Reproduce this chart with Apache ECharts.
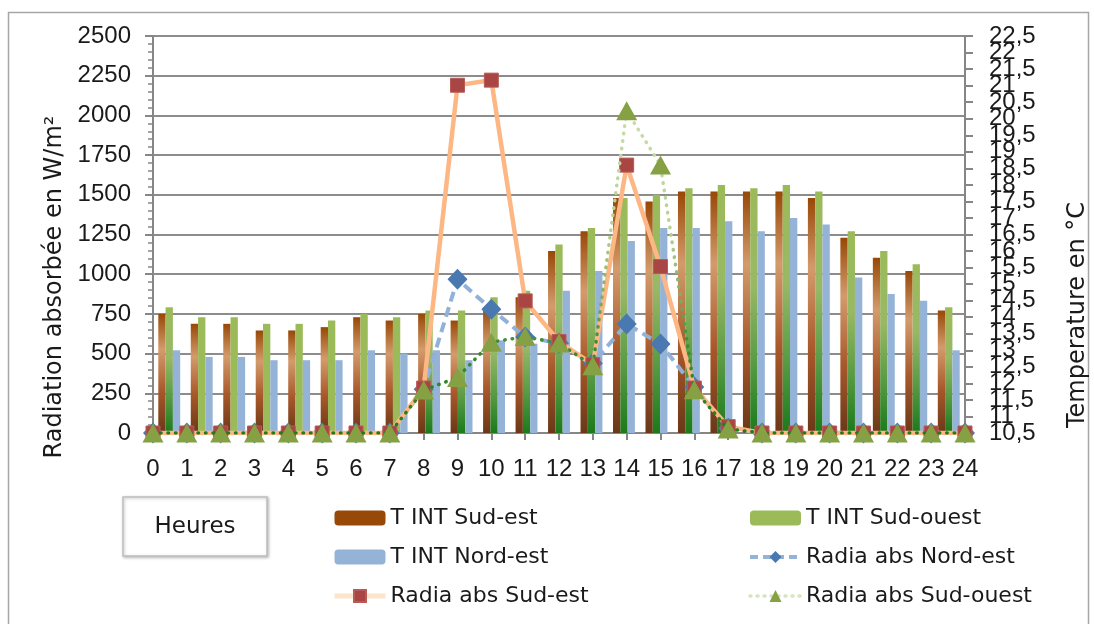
<!DOCTYPE html>
<html>
<head>
<meta charset="utf-8">
<script src="https://cdn.jsdelivr.net/npm/echarts@6/dist/echarts.min.js"></script>
<style>
  html, body { margin: 0; padding: 0; background: #ffffff; }
  #chart { width: 1094px; height: 624px; }
</style>
</head>
<body>
<div id="chart"></div>
<script>
// ---- data ----
const hours = ['0','1','2','3','4','5','6','7','8','9','10','11','12','13','14','15','16','17','18','19','20','21','22','23','24'];
// interior temperatures (°C), right axis
const tIntSudEst   = [14.1,13.8,13.8,13.6,13.6,13.7,14.0,13.9,14.1,13.9,14.3,14.6,16.0,16.6,17.6,17.5,17.8,17.8,17.8,17.8,17.6,16.4,15.8,15.4,14.2];
const tIntSudOuest = [14.3,14.0,14.0,13.8,13.8,13.9,14.1,14.0,14.2,14.2,14.6,14.8,16.2,16.7,17.6,17.7,17.9,18.0,17.9,18.0,17.8,16.6,16.0,15.6,14.3];
const tIntNordEst  = [13.0,12.8,12.8,12.7,12.7,12.7,13.0,12.9,13.0,12.7,13.3,13.2,14.8,15.4,16.3,16.7,16.7,16.9,16.6,17.0,16.8,15.2,14.7,14.5,13.0];
// absorbed radiation (W/m²), left axis
const radiaNordEst  = [0,0,0,0,0,0,0,0,275,968,780,605,565,440,687,560,290,30,0,0,0,0,0,0,0];
const radiaSudEst   = [0,0,0,0,0,0,0,0,283,2190,2222,832,576,430,1687,1048,283,40,0,0,0,0,0,0,0];
const radiaSudOuest = [0,0,0,0,0,0,0,0,270,350,572,607,566,423,2029,1687,272,25,0,0,0,0,0,0,0];

const numFont = 'Liberation Sans';
const txtFont = 'DejaVu Sans';
const G = echarts.graphic;

const brownGrad = new G.LinearGradient(0,0,0,1,[
  {offset:0, color:'#984807'},{offset:0.3, color:'#d39b6c'},
  {offset:0.65, color:'#a8582a'},{offset:1, color:'#6a3818'}]);
const greenGrad = new G.LinearGradient(0,0,0,1,[
  {offset:0, color:'#9bbb59'},{offset:0.4, color:'#98b865'},
  {offset:0.72, color:'#579a43'},{offset:1, color:'#1b7a1b'}]);
const sudOuestGrad = new G.LinearGradient(0, 36, 0, 433, [
  {offset:0, color:'#cadca8'},{offset:0.19, color:'#cadca8'},{offset:0.49, color:'#b8d191'},
  {offset:0.665, color:'#7fae5c'},{offset:0.77, color:'#3f8c34'},{offset:1, color:'#1e7b1e'}], true);

const greenData = tIntSudOuest.map((v,i) => (i >= 1 && i <= 7)
  ? {value: v, itemStyle: {color: '#9bbb59'}} : v);

const legendText = { fontFamily: txtFont, fontSize: 22, color:'#1a1a1a', lineHeight: 26 };
const fmtT = v => String(v).replace('.', ',');

const chart = echarts.init(document.getElementById('chart'), null, {renderer:'canvas'});
chart.setOption({
  animation: false,
  backgroundColor: '#ffffff',
  grid: { left: 153, right: 129, top: 36, bottom: 191, containLabel: false },
  xAxis: [
    { type:'category', data: hours, boundaryGap: true, show: false },
    { type:'category', data: hours, boundaryGap: false, position:'bottom',
      axisLine: { lineStyle: { color:'#868686', width: 2 } },
      axisTick: { show: true, length: 7, lineStyle: { color:'#868686', width: 2 } },
      axisLabel: { color:'#1a1a1a', fontFamily: numFont, fontSize: 24, margin: 24, interval: 0 },
      splitLine: { show: false } }
  ],
  yAxis: [
    { type:'value', min: 0, max: 2500, interval: 250, position:'left',
      axisLine: { show: true, lineStyle: { color:'#868686', width: 2 } },
      axisTick: { show: true, length: 8, lineStyle: { color:'#868686', width: 2 } },
      minorTick: { show: true, splitNumber: 5, length: 5, lineStyle: { color:'#868686', width: 1.5 } },
      axisLabel: { color:'#1a1a1a', fontFamily: numFont, fontSize: 24, margin: 22,
        formatter: v => String(v) },
      splitLine: { show: true, lineStyle: { color:'#8c8c8c', width: 2 } } },
    // temperature axis: ticks every 0.5, labels for the ",5" values
    { type:'value', min: 10.5, max: 22.5, interval: 0.5, position:'right',
      axisLine: { show: true, lineStyle: { color:'#868686', width: 2 } },
      axisTick: { show: true, length: 8, lineStyle: { color:'#868686', width: 2 } },
      axisLabel: { color:'#1a1a1a', fontFamily: numFont, fontSize: 24, margin: 24,
        showMinLabel: true, showMaxLabel: true,
        formatter: v => (Math.round(v * 2) % 2 === 1 ? fmtT(v) : '') },
      splitLine: { show: false } },
    // same temperature scale: labels for the whole values
    { type:'value', min: 10.5, max: 22.5, interval: 0.5, position:'right',
      axisLine: { show: false }, axisTick: { show: false }, splitLine: { show: false },
      axisLabel: { color:'#1a1a1a', fontFamily: numFont, fontSize: 24, margin: 24,
        showMinLabel: true, showMaxLabel: true,
        formatter: v => (Math.round(v * 2) % 2 === 0 ? fmtT(v) : '') } }
  ],
  legend: [
    { orient:'vertical', left: 332, top: 505, padding: 0, itemWidth: 51, itemHeight: 15, itemGap: 13,
      textStyle: legendText,
      data: [
        { name:'T INT Sud-est', itemStyle: { color:'#984807' } },
        { name:'T INT Nord-est', itemStyle: { color:'#95b3d7' } },
        { name:'Radia abs Sud-est', itemStyle: { color:'#a94643' }, lineStyle: { color:'#fbe5c8', width: 5 } }
      ] },
    { orient:'vertical', left: 748, top: 505, padding: 0, itemWidth: 51, itemHeight: 15, itemGap: 13,
      textStyle: legendText,
      data: [
        { name:'T INT Sud-ouest', itemStyle: { color:'#9bbb59' } },
        { name:'Radia abs Nord-est', itemStyle: { color:'#4a78b0' }, lineStyle: { color:'#95b3d7', width: 4, type:[8,5] } },
        { name:'Radia abs Sud-ouest', itemStyle: { color:'#86a044' }, lineStyle: { color:'#d7e4bd', width: 3.5, type:[1,6], cap:'round' } }
      ] }
  ],
  graphic: [
    { type:'rect', shape: { x: 8.5, y: 12.5, width: 1080, height: 640 }, silent: true,
      style: { fill: 'none', stroke: '#a6a6a6', lineWidth: 1.5 }, z: -10 },
    { type:'rect', shape: { x: 123, y: 497, width: 144, height: 59 },
      style: { fill:'#ffffff', stroke:'#bfbfbf', lineWidth: 1.5, shadowBlur: 3, shadowColor:'rgba(0,0,0,0.25)', shadowOffsetX: 1, shadowOffsetY: 1 } },
    { type:'text', x: 195, y: 527, style: { text:'Heures', font: '23px "DejaVu Sans"', fill:'#1a1a1a', align:'center', verticalAlign:'middle' } },
    { type:'text', x: 55, y: 287, rotation: Math.PI/2,
      style: { text:'Radiation absorbée en W/m²', font: '24px "DejaVu Sans"', fill:'#1a1a1a', align:'center', verticalAlign:'middle' } },
    { type:'text', x: 1078, y: 315, rotation: Math.PI/2,
      style: { text:'Temperature en °C', font: '24px "DejaVu Sans"', fill:'#1a1a1a', align:'center', verticalAlign:'middle' } }
  ],
  series: [
    { name:'T INT Sud-est', type:'bar', xAxisIndex: 0, yAxisIndex: 1, data: tIntSudEst,
      barWidth: 7.3, barGap: '0%', itemStyle: { color: brownGrad } },
    { name:'T INT Sud-ouest', type:'bar', xAxisIndex: 0, yAxisIndex: 1, data: greenData,
      barWidth: 7.3, barGap: '0%', itemStyle: { color: greenGrad } },
    { name:'T INT Nord-est', type:'bar', xAxisIndex: 0, yAxisIndex: 1, data: tIntNordEst,
      barWidth: 7.3, barGap: '0%', itemStyle: { color: '#95b3d7' } },
    { name:'Radia abs Nord-est', type:'line', xAxisIndex: 1, yAxisIndex: 0, data: radiaNordEst,
      symbol:'diamond', symbolSize: [20, 21], z: 3,
      lineStyle: { color:'#92b1d9', width: 4, type: [10, 6] },
      itemStyle: { color:'#4a78b0' } },
    { name:'Radia abs Sud-est', type:'line', xAxisIndex: 1, yAxisIndex: 0, data: radiaSudEst,
      symbol:'rect', symbolSize: 14, z: 4,
      lineStyle: { width: 4.5, color: '#fcb784' },
      itemStyle: { color:'#a94643', borderColor:'#b85a57', borderWidth: 1 } },
    { name:'Radia abs Sud-ouest', type:'line', xAxisIndex: 1, yAxisIndex: 0, data: radiaSudOuest,
      symbol:'triangle', symbolSize: [21, 19], z: 5,
      lineStyle: { width: 3.5, type: [0.5, 7], cap: 'round', color: sudOuestGrad },
      itemStyle: { color:'#86a044' } }
  ]
});
</script>
</body>
</html>
